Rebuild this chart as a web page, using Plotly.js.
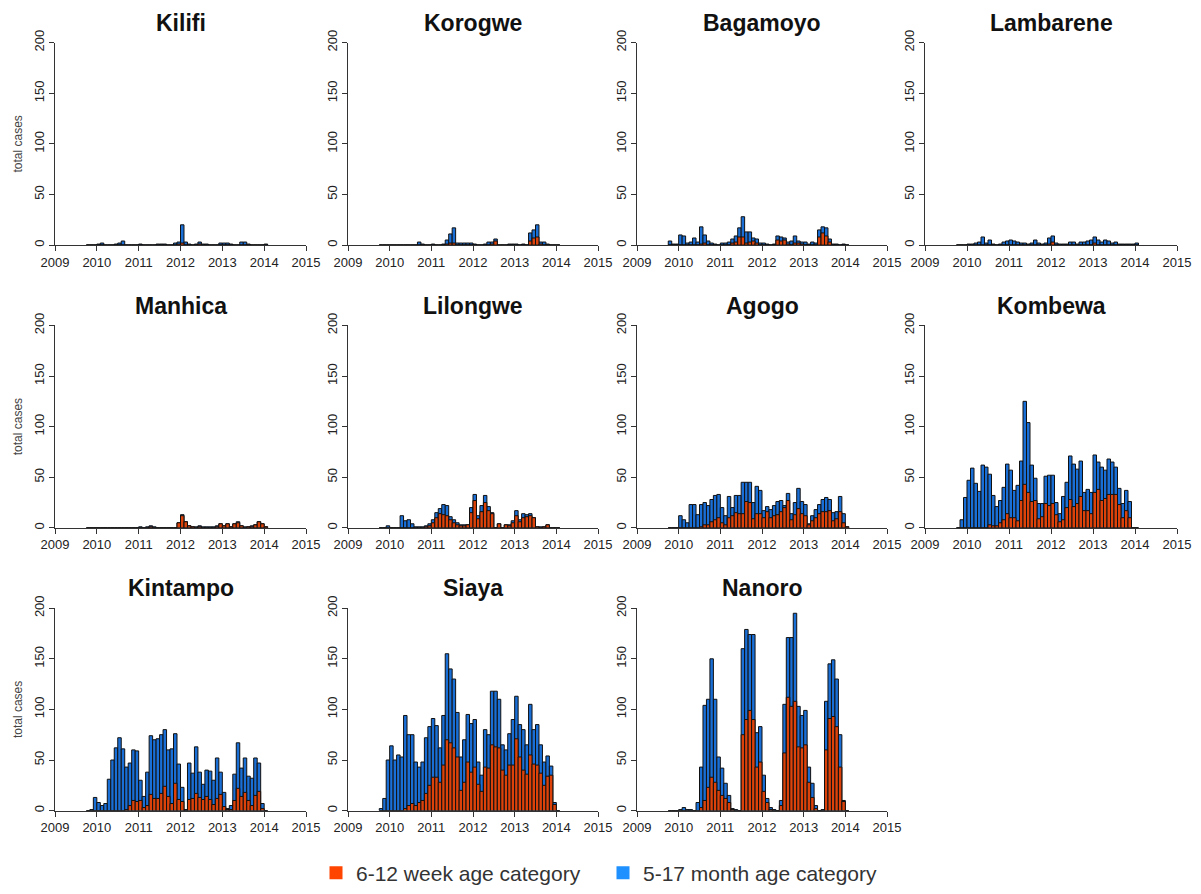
<!DOCTYPE html>
<html><head><meta charset="utf-8">
<script src="https://cdn.plot.ly/plotly-3.0.1.min.js"></script>
<style>html,body{margin:0;padding:0;background:#fff}#chart{width:1201px;height:894px}</style>
</head><body><div id="chart"></div>
<script>
const months = ['2009-10','2009-11','2009-12',
'2010-01','2010-02','2010-03','2010-04','2010-05','2010-06','2010-07','2010-08','2010-09','2010-10','2010-11','2010-12',
'2011-01','2011-02','2011-03','2011-04','2011-05','2011-06','2011-07','2011-08','2011-09','2011-10','2011-11','2011-12',
'2012-01','2012-02','2012-03','2012-04','2012-05','2012-06','2012-07','2012-08','2012-09','2012-10','2012-11','2012-12',
'2013-01','2013-02','2013-03','2013-04','2013-05','2013-06','2013-07','2013-08','2013-09','2013-10','2013-11','2013-12',
'2014-01'];
const yearTicks = [2009,2010,2011,2012,2013,2014,2015];
const yearLabels = ['2009','2010','2011','2012','2013','2014','2015'];
const caseTicks = [0,50,100,150,200];
const seriesNames = ['6-12 week age category','5-17 month age category'];
const siteNames = ['Kilifi','Korogwe','Bagamoyo','Lambarene','Manhica','Lilongwe','Agogo','Kombewa','Kintampo','Siaya','Nanoro'];

// total cases per month (both age categories) and 6-12 week cases
const kilifiTotal  = [0,0,0, 1,2,0,0,0,1,2,4,0,0,0,0, 1,0,0,0,0,1,1,1,0,0,2,3, 20,3,1,0,1,3,1,1,0,0,0,2, 2,2,1,0,0,3,3,1,0,0,0,0, 1];
const kilifiInfant = [0,0,0, 0,0,0,0,0,0,0,0,0,0,0,0, 0,0,0,0,0,0,0,0,0,0,0,1, 2,0,0,0,0,1,0,0,0,0,0,0, 0,0,0,0,0,0,0,0,0,0,0,0, 0];
const korogweTotal  = [0,0,0, 0,0,0,0,0,0,0,0,3,1,0,0, 1,0,0,1,5,11,17,2,2,2,2,2, 1,0,0,1,3,3,6,0,0,0,1,1, 1,0,1,0,12,15,20,3,3,1,0,0, 0];
const korogweInfant = [0,0,0, 0,0,0,0,0,0,0,0,0,0,0,0, 0,0,0,0,1,2,2,0,0,0,0,0, 0,0,0,0,0,1,4,0,0,0,0,0, 0,0,0,0,4,7,8,1,0,0,0,0, 0];
const bagamoyoTotal  = [4,1,1, 10,9,2,3,7,3,18,10,4,2,1,0, 2,2,3,6,9,17,28,13,13,7,6,2, 2,1,0,1,9,8,7,3,4,9,4,3, 3,1,3,2,15,18,17,6,1,1,0,1, 0];
const bagamoyoInfant = [0,0,0, 0,0,0,0,0,0,1,2,0,0,0,0, 0,0,0,2,3,8,8,2,3,4,2,0, 0,0,0,0,5,4,5,1,0,2,2,1, 0,0,0,0,8,12,9,3,0,0,0,0, 0];
const lambareneTotal  = [0,0,0, 1,1,2,3,8,2,5,1,0,1,3,4, 5,4,3,2,2,1,2,5,2,1,2,7, 9,2,1,1,1,3,3,1,3,3,4,5, 8,5,3,5,4,2,3,1,1,1,1,1, 2];
const lambareneInfant = [0,0,0, 0,0,0,0,0,0,0,0,0,0,0,0, 0,0,0,0,0,0,0,0,0,0,0,1, 3,0,0,0,0,0,0,0,0,0,0,0, 2,0,0,0,0,0,0,0,0,0,0,0, 0];
const manhicaTotal  = [0,0,0, 0,0,0,0,0,0,0,0,0,0,0,0, 1,0,1,2,1,0,0,0,0,0,0,5, 13,6,2,1,1,2,1,1,1,1,2,4, 2,4,1,4,6,2,1,1,2,3,6,4, 1];
const manhicaInfant = [0,0,0, 0,0,0,0,0,0,0,0,0,0,0,0, 0,0,0,1,0,0,0,0,0,0,0,5, 12,6,2,1,0,1,0,0,0,0,1,4, 2,4,1,4,5,2,0,1,1,3,6,4, 1];
const lilongweTotal  = [0,0,2, 0,0,0,12,7,8,4,1,1,1,2,4, 8,15,19,23,22,11,8,5,3,3,3,20, 33,12,22,32,21,15,0,4,0,3,3,7, 17,8,14,13,14,10,1,1,1,3,0,0, 0];
const lilongweInfant = [0,0,0, 0,0,0,0,0,0,0,0,0,0,1,2, 5,10,14,13,12,8,5,3,2,2,3,15, 27,9,16,25,17,14,0,4,0,3,2,5, 12,6,10,11,12,10,1,0,1,3,0,0, 0];
const agogoTotal  = [0,0,0, 12,8,5,23,23,13,23,25,22,28,32,33, 20,12,31,20,32,32,45,45,45,25,41,37, 17,21,18,22,26,27,22,34,14,25,39,26, 23,4,12,18,23,28,30,28,15,16,31,14, 1];
const agogoInfant = [0,0,0, 0,0,0,0,0,0,1,3,3,6,8,10, 5,3,10,12,15,14,14,26,25,9,14,14, 10,16,10,12,13,16,20,27,8,13,19,14, 12,3,7,10,14,16,16,17,7,9,16,5, 1];
const kombewaTotal  = [0,8,30, 47,59,44,36,62,60,53,32,21,27,40,63, 57,37,42,66,125,104,62,49,24,24,51,52, 52,25,14,31,45,71,63,58,66,35,38,35, 72,65,60,57,68,65,60,39,24,37,26,0, 0];
const kombewaInfant = [0,0,0, 0,0,0,0,0,0,3,2,2,5,8,14, 10,10,7,27,43,35,26,27,9,11,24,22, 24,13,6,8,20,28,21,24,31,17,17,14, 35,38,27,29,33,33,33,23,10,17,10,0, 0];
const kintampoTotal  = [0,1,13, 8,5,7,31,50,62,72,61,43,47,60,59, 30,14,38,74,70,71,75,80,60,61,76,46, 23,1,47,37,63,38,26,40,39,30,52,38, 18,2,5,36,67,42,52,34,32,52,47,7, 0];
const kintampoInfant = [0,0,0, 0,0,0,0,0,0,0,0,1,5,10,9, 10,3,5,16,12,12,17,24,14,7,27,11, 9,0,11,12,17,13,11,14,11,6,12,16, 4,1,1,10,22,14,18,10,5,15,19,2, 0];
const siayaTotal  = [2,12,50, 64,50,55,53,94,75,75,48,43,48,72,83, 91,84,62,94,155,140,130,97,53,70,95,86, 90,48,35,80,75,118,118,110,65,60,76,90, 113,85,80,65,105,80,85,65,48,54,44,8, 0];
const siayaInfant = [0,0,0, 0,0,0,0,2,5,7,5,8,10,17,25, 33,33,28,45,70,67,62,53,20,28,48,38, 43,26,19,43,42,65,63,62,40,35,45,45, 71,53,40,36,55,46,45,37,25,34,35,6, 0];
const nanoroTotal  = [0,0,0, 1,3,1,1,0,8,43,104,110,150,110,53, 42,27,15,2,1,0,160,179,174,174,77,83, 35,12,3,1,0,10,105,171,171,195,103,94, 99,43,27,5,0,1,108,145,149,130,75,10, 0];
const nanoroInfant = [0,0,0, 0,0,0,0,0,0,3,10,23,33,28,20, 15,12,8,1,0,0,75,90,99,90,43,48, 19,8,1,0,0,5,57,112,103,108,63,62, 65,28,13,2,0,0,60,91,93,83,43,9, 0];

const totals  = [kilifiTotal,korogweTotal,bagamoyoTotal,lambareneTotal,manhicaTotal,lilongweTotal,agogoTotal,kombewaTotal,kintampoTotal,siayaTotal,nanoroTotal];
const infants = [kilifiInfant,korogweInfant,bagamoyoInfant,lambareneInfant,manhicaInfant,lilongweInfant,agogoInfant,kombewaInfant,kintampoInfant,siayaInfant,nanoroInfant];

// layout geometry (pixels)
const W = 1201, H = 894;
const colPx = [[55,306],[348,598],[637,887],[925,1177]];
const rowPx = [[43,247],[328,532],[613,817]];
const titleDy = 20;

const blueFill = '#1a6fd6', redFill = '#dc420a';
const legendBlue = '#1e90ff', legendRed = '#ff4500';
const FONT = 'Liberation Sans, Arial, sans-serif';

const xs = months.map(s => { const p = s.split('-'); return +p[0] + (+p[1] - 0.5) / 12; });

const data = [];
const layout = {
  width: W, height: H,
  margin: {l:0, r:0, t:0, b:0},
  paper_bgcolor: '#fff', plot_bgcolor: '#fff',
  barmode: 'overlay', bargap: 0,
  showlegend: true,
  legend: {orientation:'h', x: 316/W, xanchor:'left', y: 1 - 880/H, yanchor:'middle',
           font:{size:21, color:'#333', family: FONT}, entrywidth: 242, itemwidth: 30, bgcolor:'rgba(0,0,0,0)'},
  annotations: [],
  font: {family: FONT}
};

siteNames.forEach((name, i) => {
  const r = Math.floor(i / 4), c = i % 4;
  const k = i + 1;
  const xa = 'x' + (k === 1 ? '' : k), ya = 'y' + (k === 1 ? '' : k);
  const [l, rr] = colPx[c], [t, b] = rowPx[r];
  const axCommon = {showgrid:false, zeroline:false, showline:true, linecolor:'#333', linewidth:1,
    ticks:'outside', ticklen:5, tickwidth:1, tickcolor:'#333', fixedrange:true,
    tickfont:{size:13, color:'#222', family: FONT}};
  layout['xaxis' + (k === 1 ? '' : k)] = Object.assign({}, axCommon, {
    domain:[l / W, rr / W], range:[2009, 2015], anchor: ya,
    tickmode:'array', tickvals: yearTicks, ticktext: yearLabels});
  const yax = Object.assign({}, axCommon, {
    domain:[1 - b / H, 1 - t / H], range:[0, 200], anchor: xa,
    tickmode:'array', tickvals: caseTicks, ticktext: caseTicks.map(String), tickangle:-90});
  if (c === 0) yax.title = {text:'total cases', font:{size:12, color:'#444', family: FONT}, standoff: 6};
  layout['yaxis' + (k === 1 ? '' : k)] = yax;

  data.push({type:'bar', x: xs, y: totals[i], width: 1/12, xaxis: xa, yaxis: ya,
    marker:{color: blueFill, line:{color:'#111', width:1}}, showlegend:false, hoverinfo:'skip', name: seriesNames[1]});
  data.push({type:'bar', x: xs, y: infants[i], width: 1/12, xaxis: xa, yaxis: ya,
    marker:{color: redFill, line:{color:'#111', width:1}}, showlegend:false, hoverinfo:'skip', name: seriesNames[0]});

  layout.annotations.push({text:'<b>' + name + '</b>', xref:'paper', yref:'paper',
    x: (l + rr) / 2 / W, y: 1 - (t - titleDy) / H, xanchor:'center', yanchor:'middle', showarrow:false,
    font:{size:23, color:'#111', family: FONT}});
});

data.push({type:'scatter', mode:'markers', x:[null], y:[null], name: seriesNames[0],
  marker:{symbol:'square', size:13, color: legendRed}, hoverinfo:'skip'});
data.push({type:'scatter', mode:'markers', x:[null], y:[null], name: seriesNames[1],
  marker:{symbol:'square', size:13, color: legendBlue}, hoverinfo:'skip'});

Plotly.newPlot('chart', data, layout, {staticPlot:true, displayModeBar:false});
</script></body></html>
